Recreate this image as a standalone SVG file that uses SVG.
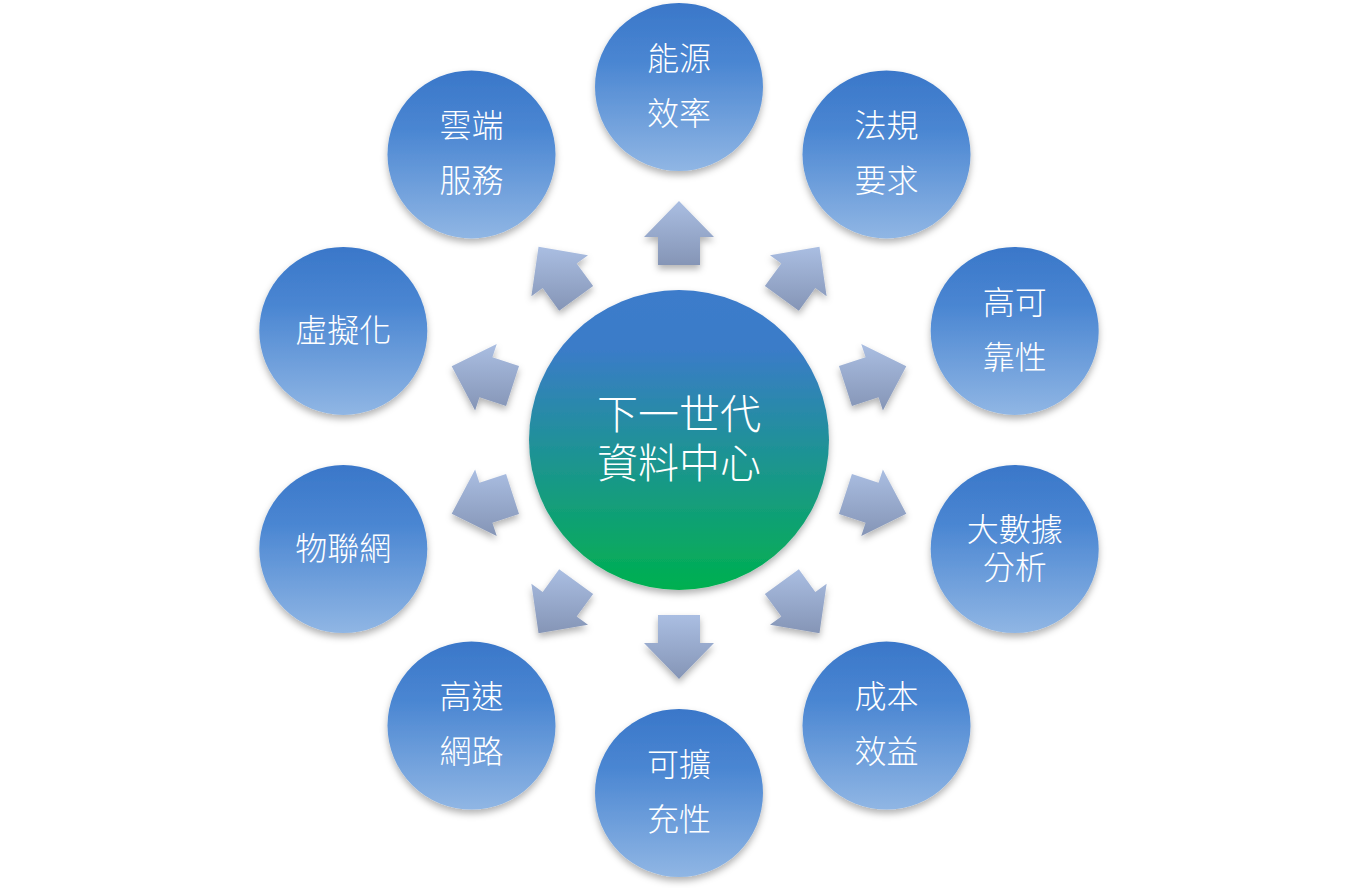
<svg xmlns="http://www.w3.org/2000/svg" width="1358" height="888" viewBox="0 0 1358 888">
<defs>
<linearGradient id="gOuter" x1="0" y1="0" x2="0" y2="1">
<stop offset="0" stop-color="#3a77c9"/>
<stop offset="0.35" stop-color="#4a86d2"/>
<stop offset="1" stop-color="#90b6e4"/>
</linearGradient>
<linearGradient id="gCenter" x1="0" y1="0" x2="0" y2="1">
<stop offset="0" stop-color="#3c7bcb"/>
<stop offset="0.2" stop-color="#3a7cc8"/>
<stop offset="0.5" stop-color="#21909b"/>
<stop offset="1" stop-color="#00b04f"/>
</linearGradient>
<linearGradient id="gArrow" x1="0" y1="0" x2="0" y2="1">
<stop offset="0" stop-color="#aabee2"/>
<stop offset="1" stop-color="#8595b6"/>
</linearGradient>
<filter id="sh" x="-20%" y="-20%" width="140%" height="150%">
<feDropShadow dx="0" dy="4" stdDeviation="3.5" flood-color="#000" flood-opacity="0.3"/>
</filter>
</defs>
<style>
.oc{fill:url(#gOuter);filter:url(#sh)}
.cc{fill:url(#gCenter);filter:url(#sh)}
.ar{fill:url(#gArrow);filter:url(#sh)}
.t{font-family:"Noto Sans CJK TC","Noto Sans CJK SC",sans-serif;font-size:32px;font-weight:300;fill:#fff;text-anchor:middle}
.tc{font-family:"Noto Sans CJK TC","Noto Sans CJK SC",sans-serif;font-size:41px;font-weight:300;fill:#fff;text-anchor:middle}
</style>
<rect width="1358" height="888" fill="#fff"/>
<g id="connectors">
<polygon class="ar" points="679,201 714,237 700,237 700,265 658,265 658,237 644,237"/>
<polygon class="ar" points="819.48,246.65 826.63,296.35 815.31,288.12 798.85,310.77 764.87,286.08 781.33,263.43 770,255.2"/>
<polygon class="ar" points="906.32,366.15 882.89,410.57 878.57,397.25 851.93,405.9 838.96,365.96 865.59,357.3 861.26,343.99"/>
<polygon class="ar" points="906.32,513.85 882.89,469.43 878.57,482.75 851.93,474.1 838.96,514.04 865.59,522.7 861.26,536.01"/>
<polygon class="ar" points="819.48,633.35 826.63,583.65 815.31,591.88 798.85,569.23 764.87,593.92 781.33,616.57 770,624.8"/>
<polygon class="ar" points="679,679 644,643 658,643 658,615 700,615 700,643 714,643"/>
<polygon class="ar" points="538.52,633.35 531.37,583.65 542.69,591.88 559.15,569.23 593.13,593.92 576.67,616.57 588,624.8"/>
<polygon class="ar" points="451.68,513.85 475.11,469.43 479.43,482.75 506.07,474.1 519.04,514.04 492.41,522.7 496.74,536.01"/>
<polygon class="ar" points="451.68,366.15 475.11,410.57 479.43,397.25 506.07,405.9 519.04,365.96 492.41,357.3 496.74,343.99"/>
<polygon class="ar" points="538.52,246.65 531.37,296.35 542.69,288.12 559.15,310.77 593.13,286.08 576.67,263.43 588,255.2"/>
</g>
<g id="center">
<circle class="cc" cx="679" cy="440" r="150"/>
<text class="tc" x="679" y="429">下一世代</text>
<text class="tc" x="679" y="478">資料中心</text>
</g>
<g id="n1">
<circle class="oc" cx="679" cy="87" r="84"/>
<text class="t" x="679" y="70">能源</text>
<text class="t" x="679" y="125">效率</text>
</g>
<g id="n2">
<circle class="oc" cx="886.5" cy="154.4" r="84"/>
<text class="t" x="886.5" y="137">法規</text>
<text class="t" x="886.5" y="192">要求</text>
</g>
<g id="n3">
<circle class="oc" cx="1014.7" cy="330.9" r="84"/>
<text class="t" x="1014.7" y="314">高可</text>
<text class="t" x="1014.7" y="369">靠性</text>
</g>
<g id="n4">
<circle class="oc" cx="1014.7" cy="549.1" r="84"/>
<text class="t" x="1014.7" y="541">大數據</text>
<text class="t" x="1014.7" y="579">分析</text>
</g>
<g id="n5">
<circle class="oc" cx="886.5" cy="725.6" r="84"/>
<text class="t" x="886.5" y="708">成本</text>
<text class="t" x="886.5" y="763">效益</text>
</g>
<g id="n6">
<circle class="oc" cx="679" cy="793" r="84"/>
<text class="t" x="679" y="776">可擴</text>
<text class="t" x="679" y="831">充性</text>
</g>
<g id="n7">
<circle class="oc" cx="471.5" cy="725.6" r="84"/>
<text class="t" x="471.5" y="708">高速</text>
<text class="t" x="471.5" y="763">網路</text>
</g>
<g id="n8">
<circle class="oc" cx="343.3" cy="549.1" r="84"/>
<text class="t" x="343.3" y="560">物聯網</text>
</g>
<g id="n9">
<circle class="oc" cx="343.3" cy="330.9" r="84"/>
<text class="t" x="343.3" y="342">虛擬化</text>
</g>
<g id="n10">
<circle class="oc" cx="471.5" cy="154.4" r="84"/>
<text class="t" x="471.5" y="137">雲端</text>
<text class="t" x="471.5" y="192">服務</text>
</g>
</svg>
